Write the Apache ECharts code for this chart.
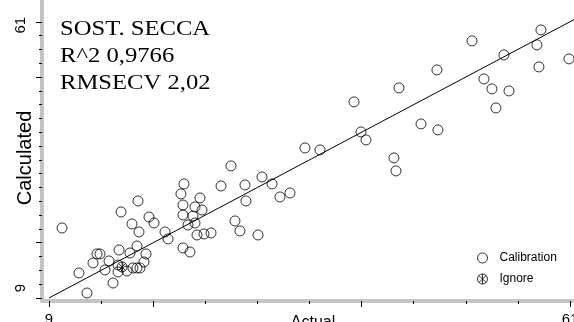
<!DOCTYPE html>
<html><head><meta charset="utf-8">
<script src="https://cdn.jsdelivr.net/npm/echarts@6/dist/echarts.min.js"></script>
<style>html,body{margin:0;padding:0;background:#fff}#c{width:574px;height:322px}</style>
</head><body><div id="c"></div>
<script>
// Calibration points [actual, calculated]
const calibration = [
  [51.22,57.40],[58.10,59.47],[57.70,56.65],[54.41,54.76],[60.90,54.01],[57.90,52.50],
  [47.72,51.94],[43.93,48.55],[52.41,50.24],[53.21,48.36],[54.91,47.98],[53.61,44.78],
  [39.44,45.91],[40.14,40.26],[40.64,38.76],[46.13,41.77],[47.82,40.64],[34.55,37.25],
  [36.05,36.87],[43.43,35.37],[43.63,32.92],[32.05,28.02],[33.05,28.77],[27.16,33.86],
  [26.17,30.09],[28.56,30.28],[30.26,31.79],[31.26,30.47],[28.66,27.27],[22.47,30.47],
  [22.17,28.59],[22.37,26.51],[24.07,27.83],[23.57,26.14],[24.27,25.57],[22.37,24.63],
  [22.87,22.75],[23.57,23.12],[23.77,20.86],[24.47,21.05],[25.17,21.24],[20.58,21.43],
  [20.88,20.11],[27.56,23.50],[28.06,21.62],[29.86,20.86],[22.37,18.42],[23.07,17.66],
  [17.88,27.27],[16.19,25.20],[18.98,24.25],[19.48,23.12],[17.28,22.94],[17.98,21.43],
  [10.30,22.18],[17.78,18.79],[15.99,18.04],[13.79,17.29],[14.09,17.29],[13.39,15.59],
  [14.99,15.97],[17.08,17.47],[18.68,17.29],[18.48,15.78],[18.08,14.65],[17.38,14.65],
  [17.78,14.65],[15.89,13.90],[16.78,14.08],[14.59,14.27],[11.99,13.71],[15.39,11.82],
  [12.79,9.94],[23.37,24.44],[15.89,15.21]
];
const ignore = [[16.29,14.84]];
const fitLine = [[9,9],[61.4,61.4]];

const xTicks = [9,14.2,19.4,24.6,29.8,35,40.2,45.4,50.6,55.8,61];
const xMajorTicks = [9,19.4,40.2,61];
const xTickLabels = [9,61];
const yTicks = [9,11.6,14.2,16.8,19.4,22,24.6,27.2,29.8,32.4,35,37.6,40.2,42.8,45.4,48,50.6,53.2,55.8,58.4,61];
const yMajorTicks = [9,19.4,50.6,61];
const yTickLabels = [9,61];
const statsLines = ['SOST. SECCA','R^2 0,9766','RMSECV 2,02'];
const seriesNames = ['Calibration','Ignore'];

const ignorePath = 'path://M0,5A5,5 0 1,1 10,5A5,5 0 1,1 0,5ZM1.5,1.5L8.5,8.5M8.5,1.5L1.5,8.5M5,0L5,10';

const chart = echarts.init(document.getElementById('c'), null, {renderer:'canvas'});
const hollow = {color:'rgba(0,0,0,0)', borderColor:'#000', borderWidth:1};
const sans = 'Liberation Sans, Arial, sans-serif';
const xBase = {type:'value', min:8.3, max:61.4, position:'bottom', splitLine:{show:false}};
const yBase = {type:'value', min:8.43, max:65.1, position:'left', splitLine:{show:false}};
chart.setOption({
  animation:false,
  backgroundColor:'#fff',
  grid:{left:42, right:0, top:0, bottom:21, containLabel:false, outerBoundsMode:'none'},
  xAxis:[
    Object.assign({}, xBase, {
      axisLine:{show:true, lineStyle:{color:'#c4c4c4', width:4}},
      axisTick:{show:true, customValues:xTicks, length:3, lineStyle:{color:'#000', width:1}},
      axisLabel:{customValues:xTickLabels, margin:11, color:'#000', fontSize:15, fontFamily:sans},
      name:'Actual', nameLocation:'middle', nameGap:14, nameMoveOverlap:false,
      nameTextStyle:{color:'#000', fontSize:16, fontFamily:sans, verticalAlign:'top', padding:[0,0,0,10]}
    }),
    Object.assign({}, xBase, {
      axisLine:{show:false},
      axisTick:{show:true, customValues:xMajorTicks, length:6, lineStyle:{color:'#000', width:1}},
      axisLabel:{show:false}
    })
  ],
  yAxis:[
    Object.assign({}, yBase, {
      axisLine:{show:true, lineStyle:{color:'#c4c4c4', width:4}},
      axisTick:{show:true, customValues:yTicks, length:3, lineStyle:{color:'#000', width:1}},
      axisLabel:{customValues:yTickLabels, rotate:90, margin:14, color:'#000', fontSize:15, fontFamily:sans,
        formatter: v => v === yTickLabels[0] ? '{a|' + v + '}' : '{b|' + v + '}',
        rich:{a:{fontSize:15, fontFamily:sans, color:'#000', padding:[0,0,0,20]},
              b:{fontSize:15, fontFamily:sans, color:'#000', padding:[0,7,0,0]}}},
      name:'Calculated', nameLocation:'middle', nameGap:7, nameMoveOverlap:false,
      nameTextStyle:{color:'#000', fontSize:20, fontFamily:sans, padding:[0,15,0,0]}
    }),
    Object.assign({}, yBase, {
      axisLine:{show:false},
      axisTick:{show:true, customValues:yMajorTicks, length:6, lineStyle:{color:'#000', width:1}},
      axisLabel:{show:false}
    })
  ],
  legend:{
    data:seriesNames, orient:'vertical', left:477, top:252, itemWidth:24, itemHeight:10, itemGap:9,
    textStyle:{color:'#000', fontSize:12, fontFamily:sans}, padding:0, inactiveColor:'#000',
    itemStyle:{color:'rgba(0,0,0,0)', borderColor:'#000', borderWidth:1}
  },
  graphic: statsLines.map((t,i) => ({
    type:'text', x:60, y:[29,56.5,83][i], scaleX:1.12,
    style:{text:t, font:'22px "Liberation Serif", "Times New Roman", serif', fill:'#000', verticalAlign:'middle'}
  })),
  series:[
    {name:'Fit', type:'line', data:fitLine, symbol:'none', lineStyle:{color:'#000', width:1}, silent:true, z:1},
    {name:seriesNames[0], type:'scatter', data:calibration, symbol:'circle', symbolSize:10, itemStyle:hollow, z:2},
    {name:seriesNames[1], type:'scatter', data:ignore, symbol:ignorePath, symbolSize:10, itemStyle:hollow, z:2}
  ]
});
</script></body></html>
